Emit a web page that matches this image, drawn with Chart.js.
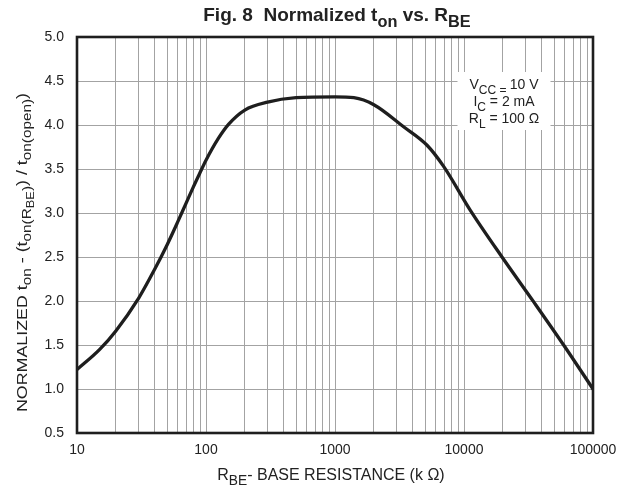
<!DOCTYPE html>
<html>
<head>
<meta charset="utf-8">
<script src="https://cdn.jsdelivr.net/npm/chart.js@4.4.1/dist/chart.umd.min.js"></script>
<style>
  html, body { margin: 0; padding: 0; background: #ffffff; }
  #wrap { width: 629px; height: 491px; position: relative; }
</style>
</head>
<body>
<div id="wrap"><canvas id="c"></canvas></div>
<script>
// ---- data ----
const rbeKOhm = [10, 15, 20, 30, 40, 50, 60, 70, 80, 90, 100, 125, 150, 200, 300, 500, 1000, 1400, 2000, 3400, 5170, 6950, 11200, 19700, 34700, 59200, 100000];
const tonNormalized = [1.22, 1.45, 1.66, 2.03, 2.36, 2.64, 2.89, 3.11, 3.30, 3.46, 3.60, 3.85, 4.01, 4.17, 4.26, 4.31, 4.32, 4.31, 4.23, 3.98, 3.77, 3.53, 3.03, 2.50, 1.99, 1.50, 1.00];

const xDecades = [10, 100, 1000, 10000, 100000];
const xMinorSteps = [1, 2, 3, 4, 5, 6, 7, 8, 9];
const yTicks = [0.5, 1.0, 1.5, 2.0, 2.5, 3.0, 3.5, 4.0, 4.5, 5.0];

// text with sub-levels: [text, level]
const titleSegs = [['Fig. 8  Normalized t', 0], ['on', 1], [' vs. R', 0], ['BE', 1]];
const xTitleSegs = [['R', 0], ['BE', 1], ['- BASE RESISTANCE (k Ω)', 0]];
const yTitleSegs = [['NORMALIZED t', 0], ['on', 1], [' - (t', 0], ['on(R', 1], ['BE', 2], [')', 1], [') / t', 0], ['on(open)', 1], [')', 0]];
const noteLines = [
  [['V', 0], ['CC = ', 1], ['10 V', 0]],
  [['I', 0], ['C', 1], [' = 2 mA', 0]],
  [['R', 0], ['L', 1], [' = 100 Ω', 0]]
];

// build grid values from decades
const xGridValues = [];
xDecades.forEach((d, i) => {
  if (i === xDecades.length - 1) { xGridValues.push(d); return; }
  xMinorSteps.forEach(m => xGridValues.push(d * m));
});

const FONT = '"Liberation Sans", Arial, Helvetica, sans-serif';

function segFont(size, level, bold) {
  const s = level === 0 ? size : (level === 1 ? size * 0.86 : size * 0.72);
  return { font: (bold ? 'bold ' : '') + s.toFixed(2) + 'px ' + FONT, shift: level === 0 ? 0 : (level === 1 ? size * 0.3 : size * 0.52) };
}
function measureRich(ctx, segs, size, bold) {
  let w = 0;
  segs.forEach(([t, l]) => { ctx.font = segFont(size, l, bold).font; w += ctx.measureText(t).width; });
  return w;
}
function drawRich(ctx, segs, x, y, size, bold, align) {
  const w = measureRich(ctx, segs, size, bold);
  let cx = align === 'center' ? x - w / 2 : (align === 'right' ? x - w : x);
  ctx.textBaseline = 'alphabetic';
  ctx.textAlign = 'left';
  segs.forEach(([t, l]) => {
    const f = segFont(size, l, bold);
    ctx.font = f.font;
    ctx.fillText(t, cx, y + f.shift);
    cx += ctx.measureText(t).width;
  });
}

const decorPlugin = {
  id: 'decor',
  beforeDatasetsDraw(chart) {
    const ctx = chart.ctx, a = chart.chartArea;
    // annotation box
    ctx.save();
    const bx = a.right - 89, by = a.top + 35;
    ctx.fillStyle = '#ffffff';
    ctx.fillRect(bx - 46.5, by, 93, 58);
    ctx.fillStyle = '#222222';
    noteLines.forEach((ln, i) => drawRich(ctx, ln, bx, by + 17.3 + i * 17, 14, false, 'center'));
    ctx.restore();
  },
  afterDraw(chart) {
    const ctx = chart.ctx, a = chart.chartArea;
    ctx.save();
    // frame
    ctx.strokeStyle = '#1e1e1e';
    ctx.lineWidth = 2.6;
    ctx.strokeRect(a.left, a.top, a.right - a.left, a.bottom - a.top);
    ctx.fillStyle = '#222222';
    // title
    drawRich(ctx, titleSegs, (a.left + a.right) / 2 + 2, 21, 19, true, 'center');
    // x title
    drawRich(ctx, xTitleSegs, (a.left + a.right) / 2 - 4, 480, 16, false, 'center');
    // y title (rotated, stretched to reference length)
    const natW = measureRich(ctx, yTitleSegs, 15, false);
    const target = 319;
    ctx.translate(26.5, 412);
    ctx.rotate(-Math.PI / 2);
    ctx.scale(target / natW, 1);
    drawRich(ctx, yTitleSegs, 0, 0, 15, false, 'left');
    ctx.restore();
  }
};

new Chart(document.getElementById('c'), {
  type: 'line',
  data: {
    datasets: [{
      data: rbeKOhm.map((x, i) => ({ x: x, y: tonNormalized[i] })),
      borderColor: '#1e1e1e',
      borderWidth: 3.3,
      pointRadius: 0,
      fill: false,
      cubicInterpolationMode: 'monotone',
      borderCapStyle: 'round',
      borderJoinStyle: 'round'
    }]
  },
  options: {
    responsive: true,
    maintainAspectRatio: false,
    animation: false,
    layout: { padding: { top: 37, right: 36, left: 0, bottom: 0 } },
    plugins: { legend: { display: false }, tooltip: { enabled: false }, title: { display: false } },
    scales: {
      x: {
        type: 'logarithmic',
        min: 10, max: 100000,
        afterBuildTicks: s => { s.ticks = xGridValues.map(v => ({ value: v })); },
        afterFit: s => { s.height = 58; },
        border: { display: false },
        grid: { color: '#a3a3a3', lineWidth: 1, drawTicks: false },
        ticks: {
          autoSkip: false, maxRotation: 0, minRotation: 0, padding: 9,
          color: '#222222', font: { family: FONT, size: 14 },
          callback: v => xDecades.includes(v) ? String(v) : ''
        }
      },
      y: {
        min: 0.5, max: 5.0,
        afterBuildTicks: s => { s.ticks = yTicks.map(v => ({ value: v })); },
        afterFit: s => { s.width = 77; },
        border: { display: false },
        grid: { color: '#a3a3a3', lineWidth: 1, drawTicks: false },
        ticks: {
          padding: 13, color: '#222222', font: { family: FONT, size: 14 },
          callback: v => Number(v).toFixed(1)
        }
      }
    }
  },
  plugins: [decorPlugin]
});
</script>
</body>
</html>
